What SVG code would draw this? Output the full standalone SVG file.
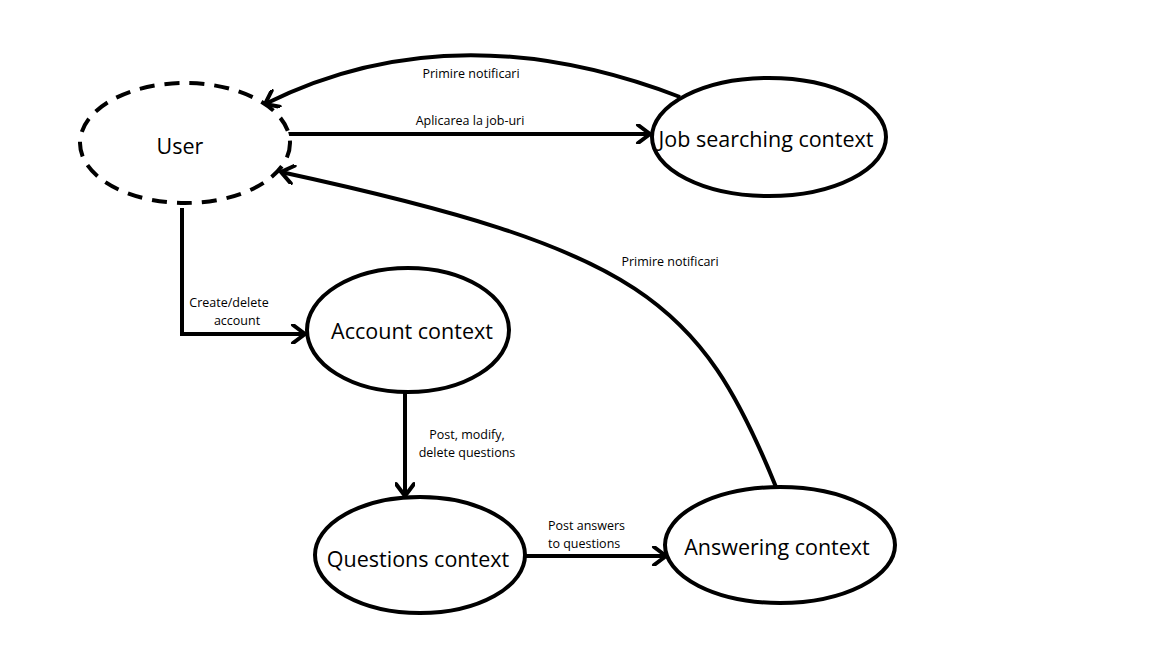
<svg xmlns="http://www.w3.org/2000/svg" width="1152" height="648" viewBox="0 0 1152 648">
<defs>
<style>
.node{fill:#fff;stroke:#000;stroke-width:4}
.dashed{stroke-dasharray:15 10}
.edge{fill:none;stroke:#000;stroke-width:4}
.nl{font-family:"Open Sans","Liberation Sans",sans-serif;font-size:21.5px;fill:#000;text-anchor:middle;dominant-baseline:central}
.el{font-family:"Open Sans","Liberation Sans",sans-serif;font-size:12.5px;fill:#000;dominant-baseline:central}
</style>
<marker id="arr" viewBox="0 0 20 20" refX="17" refY="10" markerWidth="20" markerHeight="20" markerUnits="userSpaceOnUse" orient="auto">
<path d="M5,1 L17,10 L5,19" fill="none" stroke="#000" stroke-width="4" stroke-linecap="round" stroke-linejoin="miter"/>
</marker>
</defs>
<rect width="1152" height="648" fill="#fff"/>
<g id="connectors">
<path class="edge" d="M287,134 L650,134" marker-end="url(#arr)"/>
<path class="edge" d="M680,97 Q453,10 265,104" marker-end="url(#arr)"/>
<path class="edge" d="M776,487 C700,300 640,250 281,172" marker-end="url(#arr)"/>
<path class="edge" d="M182,208 L182,334 L305,334" marker-end="url(#arr)"/>
<path class="edge" d="M405,392 L405,496" marker-end="url(#arr)"/>
<path class="edge" d="M525,556 L666,556" marker-end="url(#arr)"/>
<text class="el" x="471" y="73" text-anchor="middle">Primire notificari</text>
<text class="el" x="470" y="120" text-anchor="middle">Aplicarea la job-uri</text>
<text class="el" x="670" y="261" text-anchor="middle">Primire notificari</text>
<text class="el" x="229" y="302" text-anchor="middle">Create/delete</text>
<text class="el" x="237" y="320" text-anchor="middle">account</text>
<text class="el" x="467" y="434" text-anchor="middle">Post, modify,</text>
<text class="el" x="467" y="452" text-anchor="middle">delete questions</text>
<text class="el" x="548" y="525">Post answers</text>
<text class="el" x="548" y="543">to questions</text>
</g>
<g id="user">
<ellipse class="node dashed" cx="185" cy="143" rx="105" ry="60"/>
<text class="nl" x="180" y="145">User</text>
</g>
<g id="job">
<ellipse class="node" cx="769" cy="137" rx="117" ry="59"/>
<text class="nl" x="766" y="138">Job searching context</text>
</g>
<g id="account">
<ellipse class="node" cx="408" cy="330" rx="101" ry="62"/>
<text class="nl" x="412" y="330">Account context</text>
</g>
<g id="questions">
<ellipse class="node" cx="420" cy="555" rx="105" ry="58"/>
<text class="nl" x="418" y="558">Questions context</text>
</g>
<g id="answering">
<ellipse class="node" cx="780" cy="545" rx="115" ry="58"/>
<text class="nl" x="777" y="546">Answering context</text>
</g>
</svg>
